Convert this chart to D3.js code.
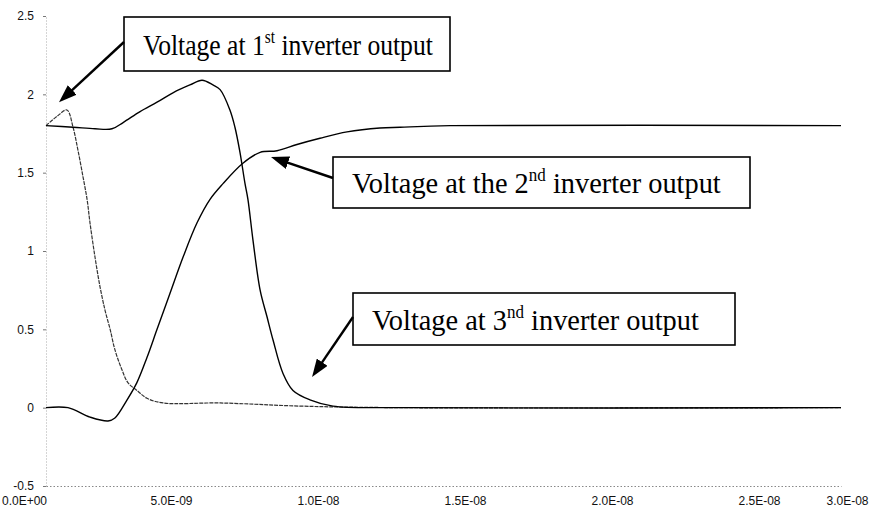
<!DOCTYPE html>
<html>
<head>
<meta charset="utf-8">
<script src="https://cdnjs.cloudflare.com/ajax/libs/d3/7.8.5/d3.min.js"></script>
<style>
body { margin: 0; background: #fff; }
.note { font-family: "Liberation Serif", "Times New Roman", serif; font-size: 30px; fill: #000; }
</style>
</head>
<body>
<script>
// time in ns, voltage in V
var time1 = [0, 0.42, 0.79, 1.02, 1.21, 1.40, 1.55, 1.66, 1.85, 2.04, 2.23, 2.42, 2.60, 2.87, 3.09, 3.43, 3.81, 4.42, 6.57, 9.58, 13.4, 30];
var volt1 = [1.80, 1.86, 1.90, 1.79, 1.64, 1.47, 1.33, 1.18, 0.96, 0.77, 0.62, 0.50, 0.37, 0.24, 0.16, 0.11, 0.06, 0.03, 0.03, 0.01, 0, 0];

var time2 = [0, 1.02, 1.85, 2.49, 2.91, 3.55, 4.19, 4.79, 5.43, 5.89, 6.30, 6.57, 6.94, 7.13, 7.32, 7.51, 7.62, 7.81, 8.08, 8.34, 8.57, 8.94, 9.32, 9.96, 10.83, 13.36, 30];
var volt2 = [1.80, 1.79, 1.78, 1.78, 1.82, 1.89, 1.95, 2.01, 2.06, 2.09, 2.06, 2.03, 1.90, 1.79, 1.63, 1.43, 1.33, 1.07, 0.75, 0.58, 0.43, 0.22, 0.11, 0.05, 0.01, 0, 0];

var time3 = [0, 0.83, 1.66, 2.34, 2.60, 3.06, 3.43, 3.81, 4.19, 4.68, 5.17, 5.70, 6.19, 6.68, 7.43, 8.08, 8.72, 9.47, 10.34, 11.36, 12.6, 13.36, 15.25, 30];
var volt3 = [0, 0, -0.06, -0.085, -0.066, 0.05, 0.16, 0.32, 0.50, 0.73, 0.96, 1.18, 1.33, 1.43, 1.56, 1.63, 1.64, 1.68, 1.72, 1.76, 1.785, 1.79, 1.80, 1.80];

var yTicks = [-0.5, 0, 0.5, 1, 1.5, 2, 2.5];
var xTickLabels = ["0.0E+00", "5.0E-09", "1.0E-08", "1.5E-08", "2.0E-08", "2.5E-08", "3.0E-08"];

// annotation texts: [text, isSuperscript]
var note1 = [["Voltage at 1", 0], ["st", 1], [" inverter output", 0]];
var note2 = [["Voltage at the 2", 0], ["nd", 1], [" inverter output", 0]];
var note3 = [["Voltage at 3", 0], ["nd", 1], [" inverter output", 0]];
// arrow tips in data units [ns, V]
var tip1 = [0.49, 1.95];
var tip2 = [8.49, 1.60];
var tip3 = [10.04, 0.195];

var W = 870, H = 518;

var svg = d3.select("body").append("svg")
	.attr("width", W)
	.attr("height", H);

var x = d3.scaleLinear().domain([0, 30]).range([46, 841]);
var y = d3.scaleLinear().domain([-0.5, 2.5]).range([486, 16]);
// category style labels, as spaced in the picture
var xLab = d3.scalePoint().domain(xTickLabels).range([24, 906]);

function axisFont(g) {
	g.selectAll("text")
		.style("font-family", "'Liberation Sans', Arial, sans-serif")
		.style("font-size", "12px")
		.attr("fill", "#111");
}

// y axis
var yAxis = svg.append("g")
	.attr("transform", "translate(46,0)")
	.call(d3.axisLeft(y).tickValues(yTicks).tickSize(3).tickSizeOuter(0).tickPadding(9)
		.tickFormat(function(d) { return String(d); }))
	.call(axisFont);
yAxis.select(".domain").attr("stroke", "#aaa").attr("stroke-dasharray", "1,2");
yAxis.selectAll(".tick line").attr("stroke", "#777");

// x axis line
var xLine = svg.append("g")
	.attr("transform", "translate(0," + y(-0.5) + ")")
	.call(d3.axisBottom(x).tickValues([]).tickSizeOuter(0));
xLine.select(".domain").attr("stroke", "#888").attr("stroke-dasharray", "1.5,2");

// x labels
var xAxis = svg.append("g")
	.attr("transform", "translate(0," + y(-0.5) + ")")
	.call(d3.axisBottom(xLab).tickSize(0).tickPadding(10))
	.call(axisFont);
xAxis.select(".domain").remove();
xAxis.selectAll(".tick").filter(function(d) { return d === "3.0E-08"; })
	.select("text")
	.attr("text-anchor", "end")
	.attr("x", (W - 2) - xLab("3.0E-08"));

// curves
var line = d3.line()
	.x(function(d) { return x(d[0]); })
	.y(function(d) { return y(d[1]); })
	.curve(d3.curveCatmullRom.alpha(0.5));

function pairs(t, v) { return t.map(function(d, i) { return [d, v[i]]; }); }

svg.append("path")
	.datum(pairs(time1, volt1))
	.attr("d", line)
	.attr("fill", "none")
	.attr("stroke", "#333")
	.attr("stroke-width", 1.2)
	.attr("stroke-dasharray", "4,1");

svg.append("path")
	.datum(pairs(time2, volt2))
	.attr("d", line)
	.attr("fill", "none")
	.attr("stroke", "#000")
	.attr("stroke-width", 1.4);

svg.append("path")
	.datum(pairs(time3, volt3))
	.attr("d", line)
	.attr("fill", "none")
	.attr("stroke", "#000")
	.attr("stroke-width", 1.4);

// arrow head
svg.append("defs").append("marker")
	.attr("id", "head")
	.attr("viewBox", "0 0 18 13")
	.attr("refX", 6)
	.attr("refY", 6.5)
	.attr("markerWidth", 18)
	.attr("markerHeight", 13)
	.attr("markerUnits", "userSpaceOnUse")
	.attr("orient", "auto")
	.append("path")
	.attr("d", "M0,0 L18,6.5 L0,13 Z")
	.attr("fill", "#000");

// annotation boxes: box [left, top, right, bottom], text width, arrow start on box
function note(parts, box, textW, start, tip) {
	var g = svg.append("g");
	g.append("rect")
		.attr("x", box[0]).attr("y", box[1])
		.attr("width", box[2] - box[0]).attr("height", box[3] - box[1])
		.attr("fill", "#fff")
		.attr("stroke", "#000")
		.attr("stroke-width", 1.6);

	var t = g.append("text").attr("class", "note");
	var up = false;
	parts.forEach(function(p) {
		var ts = t.append("tspan").text(p[0]);
		if (p[1]) { ts.attr("font-size", "18px").attr("dy", -12); up = true; }
		else if (up) { ts.attr("dy", 12); up = false; }
	});
	var w = t.node().getComputedTextLength();
	var base = (box[1] + box[3]) / 2 + 10.5;
	t.attr("transform", "translate(" + (box[0] + 19) + "," + base + ") scale(" + (textW / w) + ",1)");

	var tx = x(tip[0]), ty = y(tip[1]);
	var dx = tx - start[0], dy = ty - start[1];
	var len = Math.sqrt(dx * dx + dy * dy);
	var sh = 12;
	g.append("line")
		.attr("x1", start[0]).attr("y1", start[1])
		.attr("x2", tx - dx / len * sh).attr("y2", ty - dy / len * sh)
		.attr("stroke", "#000")
		.attr("stroke-width", 2.4)
		.attr("marker-end", "url(#head)");
}

note(note1, [124, 17, 450, 71], 290, [124, 42], tip1);
note(note2, [333, 157, 750, 208], 369, [333, 178], tip2);
note(note3, [353, 293, 735, 345], 327, [353, 317], tip3);
</script>
</body>
</html>
